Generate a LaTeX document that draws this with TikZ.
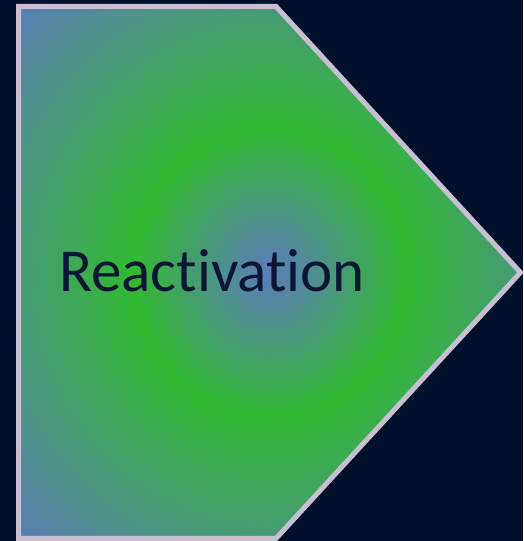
\documentclass[tikz,border=0pt]{standalone}
\usepackage{fontspec}
\setmainfont[Ligatures=NoCommon]{Carlito}
\definecolor{bgnavy}{RGB}{0,16,42}
\definecolor{rim}{RGB}{200,192,210}
\definecolor{cblue}{RGB}{92,124,186}
\definecolor{cgreen}{RGB}{50,185,50}
\definecolor{txt}{RGB}{10,22,52}
\pgfdeclareradialshading{pentashade}{\pgfpoint{0bp}{0bp}}{%
  color(0bp)=(cblue); color(3bp)=(cblue!80!cgreen); color(13.5bp)=(cgreen); color(36bp)=(cblue); color(50bp)=(cblue)}
\tikzset{
  pentagon/.style={draw=rim, line width=5pt, line join=miter, shading=pentashade},
  label/.style={font=\fontsize{61}{73}\selectfont, text=txt, inner sep=0pt, anchor=base west}
}
\begin{document}
\begin{tikzpicture}[x=1pt,y=1pt]
\useasboundingbox (0,0) rectangle (523,541);
\clip (0,0) rectangle (523,541);
\fill[bgnavy] (0,0) rectangle (523,541);
\path[pentagon] (18.5,534.5) -- (276,534.5) -- (520.5,268.5) -- (276,2.5) -- (18.5,2.5) -- cycle;
\node[label] (t) at (59,249) {Reactivation};
\end{tikzpicture}
\end{document}
